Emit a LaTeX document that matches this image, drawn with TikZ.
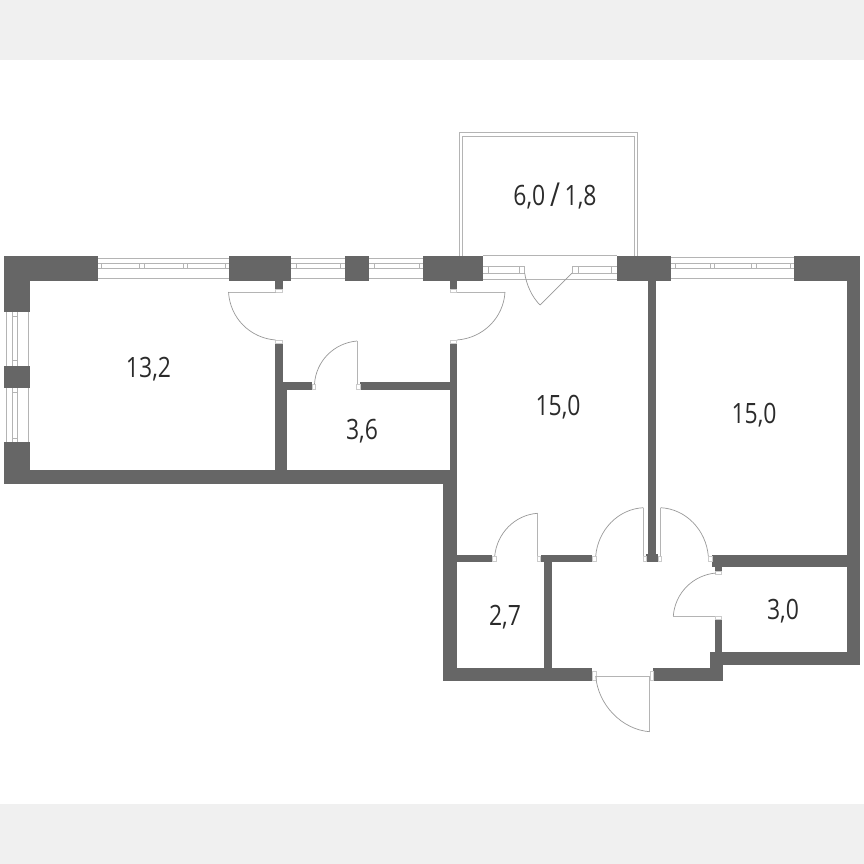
\documentclass[tikz,border=0pt]{standalone}
\usepackage{fontspec}
\newfontfamily\lblfont[FakeStretch=0.82]{Open Sans}
\definecolor{wallc}{HTML}{666666}
\definecolor{linec}{HTML}{B4B4B4}
\definecolor{arcc}{HTML}{999999}
\definecolor{bandc}{HTML}{F0F0F0}
\definecolor{textc}{HTML}{2B2B2B}
\tikzset{
  wall/.style={fill=wallc,draw=none},
  winline/.style={draw=linec,line width=0.8pt},
  leaf/.style={draw=linec,line width=0.8pt},
  swing/.style={draw=arcc,line width=0.7pt},
  jamb/.style={draw=linec!70,fill=white,line width=0.6pt},
  area/.style={font=\lblfont\fontsize{28}{28}\selectfont,text=textc,inner sep=0pt}
}
\begin{document}
\begin{tikzpicture}[x=1pt,y=-1pt]
\useasboundingbox (0,0) rectangle (864,864);
\fill[white] (0,0) rectangle (864,864);
\fill[bandc] (0,0) rectangle (864,60);
\fill[bandc] (0,804) rectangle (864,864);
% balcony
\draw[winline] (459,255.5) -- (459,132.8) -- (637,132.8) -- (637,255.5);
\draw[winline] (462.5,255.5) -- (462.5,136.2) -- (634,136.2) -- (634,255.5);
% top windows
\foreach \a/\b in {98/229,291/345,369/423}{
  \draw[winline] (\a,258) -- (\b,258);
  \draw[winline] (\a,263.5) -- (\b,263.5);
  \draw[winline] (\a,268.5) -- (\b,268.5);
  \draw[winline] (\a,278.8) -- (\b,278.8);
}
\foreach \m in {101.7,139.3,144,183,187.7,225,296,340,374,419}{
  \draw[winline] (\m,263.5) -- (\m,268.5);
}
\draw[winline] (671,257.5) -- (794,257.5);
\draw[winline] (671,263.5) -- (794,263.5);
\draw[winline] (671,268.5) -- (794,268.5);
\draw[winline] (671,278.8) -- (794,278.8);
\foreach \m in {675,710,714.7,751.7,756,790}{
  \draw[winline] (\m,263.5) -- (\m,268.5);
}
% left windows
\foreach \a/\b in {312/366,388/442}{
  \draw[winline] (6.8,\a) -- (6.8,\b);
  \draw[winline] (12.3,\a) -- (12.3,\b);
  \draw[winline] (17.7,\a) -- (17.7,\b);
  \draw[winline] (28.3,\a) -- (28.3,\b);
}
\foreach \m in {316,360.7,392,438}{
  \draw[winline] (12.3,\m) -- (17.7,\m);
}
% balcony door and windows
\draw[winline] (483,255.8) -- (617,255.8);
\draw[winline] (483,279.5) -- (617,279.5);
\draw[winline] (483,266.8) -- (525,266.8);
\draw[winline] (483,273.2) -- (525,273.2);
\draw[winline] (572,266.8) -- (617,266.8);
\draw[winline] (572,273.2) -- (617,273.2);
\foreach \m in {488.7,519.7,524.7,572,578,611.7}{
  \draw[winline] (\m,266.8) -- (\m,273.2);
}
\draw[swing] (524.7,273.2) .. controls (526.5,285) and (532,297) .. (540,305);
\draw[swing] (540,305) -- (572,273.2);
% walls
\fill[wall] (4,255.5) rectangle (98,281);
\fill[wall] (4,255.5) rectangle (30,312);
\fill[wall] (4,366) rectangle (30,388);
\fill[wall] (4,442) rectangle (30,483.5);
\fill[wall] (4,470) rectangle (457,483.5);
\fill[wall] (228.7,255.5) rectangle (291,281);
\fill[wall] (275,281) rectangle (282.5,289);
\fill[wall] (345,255.5) rectangle (369,281);
\fill[wall] (423.3,255.5) rectangle (483,281);
\fill[wall] (449.5,281) rectangle (457,289);
\fill[wall] (275,343) rectangle (282.5,470);
\fill[wall] (275,382) rectangle (287,470);
\fill[wall] (282,382) rectangle (312,390);
\fill[wall] (360,382) rectangle (450,390);
\fill[wall] (449.5,343) rectangle (457,483.5);
\fill[wall] (443,470) rectangle (457,680.5);
\fill[wall] (443,667.5) rectangle (592,680.5);
\fill[wall] (457,555) rectangle (492,562);
\fill[wall] (540.5,555) rectangle (592,562);
\fill[wall] (544.3,555) rectangle (552,668);
\fill[wall] (617,255.5) rectangle (671,281);
\fill[wall] (648,281) rectangle (656,562);
\fill[wall] (646,554) rectangle (658,562);
\fill[wall] (794,255.5) rectangle (860,281);
\fill[wall] (847,255.5) rectangle (860,665);
\fill[wall] (712,554.7) rectangle (860,567);
\fill[wall] (714.7,567) rectangle (722,571);
\fill[wall] (714.7,619) rectangle (722,655);
\fill[wall] (710,652) rectangle (860,665);
\fill[wall] (710,652) rectangle (723.3,680.5);
\fill[wall] (653.3,668) rectangle (723.3,680.5);
% door jambs
\foreach \xa/\ya/\xb/\yb in {
  275.5/289/282/292, 275.5/340/282/343,
  450/289/456.5/292, 450/340/456.5/343,
  312/384/315.5/389.5, 356.5/384/360/389.5,
  492/556/496/561, 537/556/540.5/561,
  592/556/596.5/561, 643/556/646/561,
  658/556/661/561, 708/556/712/561,
  715/571/721.5/574, 715/616/721.5/619,
  592/671/596/680, 650/671/653.3/680}{
  \draw[jamb] (\xa,\ya) rectangle (\xb,\yb);
}
% doors: leaves and swings
\draw[leaf] (275.5,292) -- (228.5,292);
\draw[swing] (228.5,292) .. controls (230,318) and (250,338) .. (275.5,340);
\draw[leaf] (456.5,292) -- (505,292);
\draw[swing] (505,292) .. controls (503.5,318) and (483,338) .. (457,340);
\draw[leaf] (357,384) -- (357,341);
\draw[swing] (357,341) .. controls (334,343) and (316,361) .. (314.5,384);
\draw[leaf] (537.3,556) -- (537.3,513.3);
\draw[swing] (537.3,513.3) .. controls (515,515) and (497,533) .. (494.7,556);
\draw[leaf] (643.3,556) -- (643.3,507.7);
\draw[swing] (643.3,507.7) .. controls (618,509) and (598,530) .. (595.7,556);
\draw[leaf] (660.7,556) -- (660.7,507.7);
\draw[swing] (660.7,507.7) .. controls (686,509) and (706,530) .. (708.3,556);
\draw[leaf] (715,616) -- (673.3,616);
\draw[swing] (673.3,616) .. controls (675,593) and (693,575) .. (716,573);
\draw[leaf] (596,676) -- (650,676);
\draw[leaf] (649.5,676) -- (649.5,731.7);
\draw[swing] (649.5,731.7) .. controls (622,729.5) and (598,705) .. (595.7,676);
% labels
\node[area] (a1) at (148.5,369) {13,2};
\node[area] (a2) at (362,431) {3,6};
\node[area] (a3) at (555,196) {6,0\,\raisebox{-1.5pt}{\fontsize{33}{33}\selectfont /}\,1,8};
\node[area] (a4) at (558,407) {15,0};
\node[area] (a5) at (754,415) {15,0};
\node[area] (a6) at (505,617) {2,7};
\node[area] (a7) at (783,611) {3,0};
\end{tikzpicture}
\end{document}
